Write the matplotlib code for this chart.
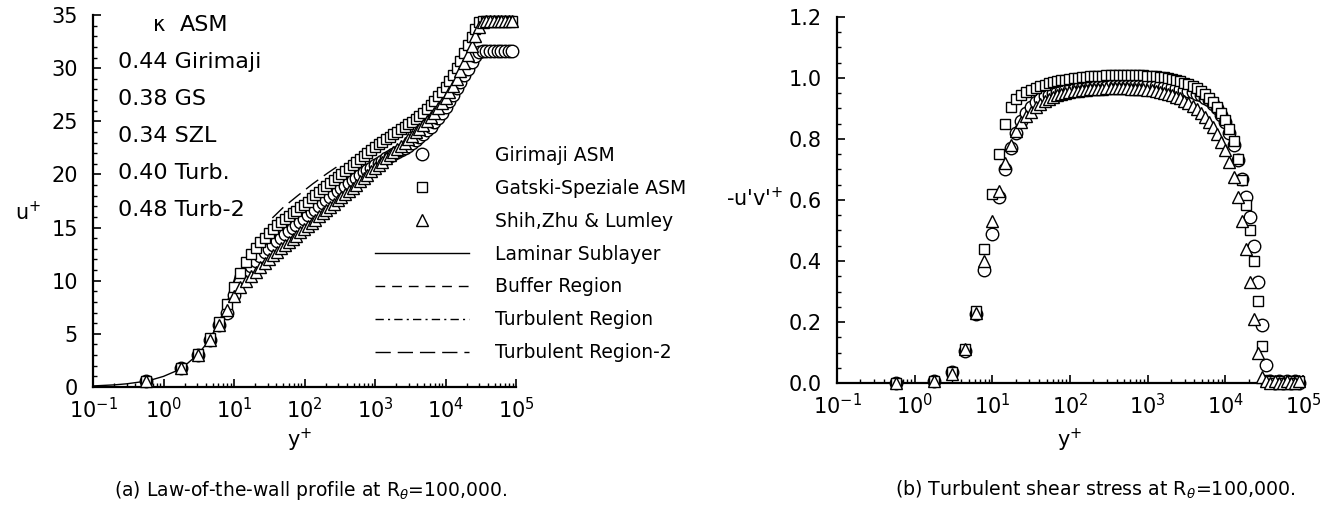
import matplotlib
matplotlib.use("Agg")
import matplotlib.pyplot as plt
from matplotlib.ticker import LogLocator, MultipleLocator, FormatStrFormatter, NullFormatter

plt.rcParams['font.family'] = ['DejaVu Sans']
plt.rcParams['mathtext.fontset'] = 'dejavusans'
plt.rcParams['axes.unicode_minus'] = False

# wall-normal grid (y+), shared by the three models
yplus = [0.57, 1.75, 3.05, 4.5, 6.1, 7.9, 9.9, 12.1, 14.6, 17.3,
         20.3, 23.6, 27.3, 31.4, 36, 41, 47, 53, 60, 68,
         77, 87, 98, 111, 126, 142, 160, 181, 205, 231,
         261, 295, 333, 376, 425, 480, 542, 612, 691, 780,
         881, 995, 1123, 1268, 1432, 1617, 1826, 2062, 2328, 2629,
         2968, 3352, 3785, 4274, 4826, 5450, 6154, 6949, 7847, 8860,
         10005, 11297, 12756, 14404, 16264, 18365, 20737, 23416, 26440, 29855,
         33712, 38000, 43000, 48500, 55000, 62000, 70000, 79000, 89000]

# (a) u+ profiles
u_gir = [0.6, 1.8, 3.05, 4.4, 5.8, 7.0, 8.7, 9.9, 10.8, 11.4,
         11.9, 12.35, 12.7, 13.0, 13.35, 13.7, 14.05, 14.35, 14.65, 14.95,
         15.25, 15.55, 15.85, 16.15, 16.45, 16.7, 17.0, 17.3, 17.6, 17.85,
         18.15, 18.45, 18.7, 18.95, 19.2, 19.45, 19.7, 19.95, 20.2, 20.45,
         20.65, 20.9, 21.1, 21.3, 21.5, 21.7, 21.9, 22.1, 22.3, 22.5,
         22.7, 22.95, 23.2, 23.5, 23.8, 24.15, 24.5, 24.9, 25.35, 25.8,
         26.3, 26.9, 27.5, 28.1, 28.7, 29.35, 29.95, 30.55, 31.1, 31.5,
         31.6, 31.6, 31.6, 31.6, 31.6, 31.6, 31.6, 31.6, 31.6]
u_gs = [0.6, 1.8, 3.1, 4.6, 6.1, 7.8, 9.4, 10.7, 11.8, 12.5,
        13.05, 13.6, 14.05, 14.5, 14.85, 15.2, 15.55, 15.8, 16.1, 16.35,
        16.6, 16.9, 17.15, 17.45, 17.75, 18.05, 18.3, 18.6, 18.9, 19.2,
        19.5, 19.75, 20.05, 20.3, 20.6, 20.9, 21.15, 21.45, 21.7, 22.0,
        22.3, 22.6, 22.85, 23.05, 23.3, 23.55, 23.8, 24.0, 24.25, 24.5,
        24.7, 24.95, 25.2, 25.5, 25.8, 26.15, 26.55, 26.95, 27.4, 27.8,
        28.2, 28.75, 29.35, 30.0, 30.65, 31.4, 32.15, 32.9, 33.7, 34.3,
        34.4, 34.4, 34.4, 34.4, 34.4, 34.4, 34.4, 34.4, 34.4]
u_szl = [0.6, 1.75, 3.0, 4.4, 5.8, 7.2, 8.6, 9.4, 10.0, 10.4,
         10.8, 11.3, 11.7, 12.05, 12.4, 12.7, 13.05, 13.35, 13.65, 13.95,
         14.25, 14.55, 14.85, 15.15, 15.45, 15.75, 16.05, 16.35, 16.65, 16.95,
         17.25, 17.55, 17.85, 18.15, 18.45, 18.75, 19.05, 19.35, 19.65, 19.95,
         20.3, 20.6, 20.9, 21.2, 21.5, 21.8, 22.1, 22.4, 22.7, 23.0,
         23.3, 23.6, 23.95, 24.3, 24.65, 25.0, 25.4, 25.8, 26.25, 26.7,
         27.2, 27.75, 28.35, 29.0, 29.7, 30.45, 31.25, 32.1, 33.0, 33.9,
         34.35, 34.4, 34.4, 34.4, 34.4, 34.4, 34.4, 34.4, 34.4]

# reference law-of-the-wall lines
lam_y = [0.1, 0.2, 0.3, 0.5, 0.7, 1, 1.5, 2, 3, 4, 5, 6, 7, 8, 9, 10, 11]
lam_u = [0.1, 0.2, 0.3, 0.5, 0.7, 1, 1.5, 2, 3, 4, 5, 6, 7, 8, 9, 10, 11]
buf_y = [5, 7, 10, 14, 20, 30]
buf_u = [5.0, 6.7, 8.5, 10.1, 11.9, 13.95]
turb_y = [30, 100, 300, 1000, 3000, 10000]
turb_u = [13.5, 16.5, 19.2, 22.2, 24.9, 27.9]
turb2_y = [35, 50, 80, 130, 210, 300]
turb2_u = [15.9, 16.9, 18.0, 19.1, 20.1, 20.8]

# (b) -u'v'+ profiles
uv_gir = [0.0, 0.005, 0.035, 0.105, 0.225, 0.37, 0.49, 0.61, 0.70, 0.77,
          0.82, 0.86, 0.885, 0.905, 0.92, 0.93, 0.94, 0.945, 0.95, 0.954,
          0.957, 0.96, 0.962, 0.964, 0.966, 0.967, 0.968, 0.969, 0.97, 0.971,
          0.972, 0.972, 0.973, 0.973, 0.974, 0.974, 0.974, 0.975, 0.975, 0.975,
          0.975, 0.975, 0.974, 0.974, 0.973, 0.972, 0.971, 0.969, 0.967, 0.965,
          0.962, 0.958, 0.954, 0.949, 0.943, 0.936, 0.927, 0.915, 0.90, 0.88,
          0.855, 0.82, 0.78, 0.73, 0.67, 0.61, 0.545, 0.45, 0.33, 0.19,
          0.06, 0.005, 0.0, 0.005, 0.0, 0.005, 0.0, 0.005, 0.0]
uv_gs = [0.0, 0.005, 0.035, 0.11, 0.235, 0.44, 0.62, 0.75, 0.85, 0.905,
         0.93, 0.945, 0.955, 0.962, 0.968, 0.973, 0.978, 0.982, 0.986, 0.989,
         0.992, 0.995, 0.997, 0.999, 1.0, 1.002, 1.004, 1.005, 1.006, 1.007,
         1.008, 1.009, 1.009, 1.01, 1.01, 1.01, 1.01, 1.01, 1.01, 1.01,
         1.009, 1.008, 1.007, 1.006, 1.004, 1.002, 1.0, 0.997, 0.993, 0.989,
         0.985, 0.98, 0.974, 0.966, 0.957, 0.946, 0.934, 0.92, 0.904, 0.885,
         0.862, 0.832, 0.792, 0.735, 0.665, 0.585, 0.50, 0.40, 0.27, 0.12,
         0.01, 0.005, 0.0, 0.005, 0.0, 0.0, 0.005, 0.0, 0.005]
uv_szl = [0.0, 0.005, 0.03, 0.11, 0.23, 0.40, 0.53, 0.63, 0.72, 0.78,
          0.825, 0.855, 0.875, 0.89, 0.905, 0.915, 0.925, 0.932, 0.938, 0.943,
          0.947, 0.951, 0.954, 0.957, 0.959, 0.961, 0.962, 0.963, 0.964, 0.965,
          0.965, 0.966, 0.966, 0.966, 0.966, 0.966, 0.966, 0.965, 0.965, 0.964,
          0.963, 0.962, 0.96, 0.958, 0.955, 0.952, 0.948, 0.944, 0.939, 0.933,
          0.926, 0.918, 0.909, 0.898, 0.886, 0.872, 0.856, 0.838, 0.816, 0.79,
          0.765, 0.725, 0.675, 0.61, 0.53, 0.44, 0.33, 0.21, 0.10, 0.02,
          0.005, 0.0, 0.005, 0.0, 0.0, 0.005, 0.0, 0.0, 0.005]

labels = ['Girimaji ASM', 'Gatski-Speziale ASM', 'Shih,Zhu & Lumley',
          'Laminar Sublayer', 'Buffer Region', 'Turbulent Region', 'Turbulent Region-2']
kappa_rows = ['0.44 Girimaji', '0.38 GS', '0.34 SZL', '0.40 Turb.', '0.48 Turb-2']

W, H = 1334, 508
fig = plt.figure(figsize=(W / 100, H / 100), dpi=100)
ax1 = fig.add_axes([93 / W, 1 - 387 / H, (516 - 93) / W, (387 - 15) / H])
ax2 = fig.add_axes([837 / W, 1 - 383 / H, (1303 - 837) / W, (383 - 17) / H])

mk = dict(linestyle='none', markerfacecolor='white', markeredgecolor='black',
          markeredgewidth=1.0, clip_on=False)

# left: law of the wall
l_lam, = ax1.plot(lam_y, lam_u, color='black', lw=1.0, ls='-', zorder=1)
l_buf, = ax1.plot(buf_y, buf_u, color='black', lw=1.0, ls=(0, (7, 5)), zorder=1)
l_turb, = ax1.plot(turb_y, turb_u, color='black', lw=1.0, ls=(0, (6, 3, 1.5, 3)), zorder=1)
l_turb2, = ax1.plot(turb2_y, turb2_u, color='black', lw=1.0, ls=(0, (11, 5)), zorder=1)
p_gir, = ax1.plot(yplus, u_gir, marker='o', markersize=9, zorder=3, **mk)
p_gs, = ax1.plot(yplus, u_gs, marker='s', markersize=7.5, zorder=3, **mk)
p_szl, = ax1.plot(yplus, u_szl, marker='^', markersize=8.5, zorder=3, **mk)

# right: shear stress
ax2.plot(yplus, uv_gir, marker='o', markersize=9, zorder=3, **mk)
ax2.plot(yplus, uv_gs, marker='s', markersize=7.5, zorder=3, **mk)
ax2.plot(yplus, uv_szl, marker='^', markersize=8.5, zorder=3, **mk)

ax1.set_ylim(0, 35)
ax1.yaxis.set_major_locator(MultipleLocator(5))
ax1.yaxis.set_minor_locator(MultipleLocator(1))
ax2.set_ylim(0, 1.2)
ax2.yaxis.set_major_locator(MultipleLocator(0.2))
ax2.yaxis.set_minor_locator(MultipleLocator(0.05))
ax2.yaxis.set_major_formatter(FormatStrFormatter('%.1f'))

for ax in (ax1, ax2):
    ax.set_xscale('log')
    ax.set_xlim(0.1, 1e5)
    ax.xaxis.set_major_locator(LogLocator(base=10, numticks=10))
    ax.xaxis.set_minor_locator(LogLocator(base=10, subs=range(2, 10), numticks=10))
    ax.xaxis.set_minor_formatter(NullFormatter())
    ax.spines['top'].set_visible(False)
    ax.spines['right'].set_visible(False)
    ax.spines['left'].set_linewidth(1.6)
    ax.spines['bottom'].set_linewidth(1.6)
    ax.tick_params(which='major', direction='in', length=6, width=1.2, labelsize=15)
    ax.tick_params(which='minor', direction='in', length=3, width=1.0)
    ax.tick_params(axis='y', which='major', pad=11)
    ax.tick_params(axis='x', which='major', pad=7)

leg = ax1.legend([p_gir, p_gs, p_szl, l_lam, l_buf, l_turb, l_turb2], labels,
                 loc='upper left', bbox_to_anchor=(375 / W, 1 - 146 / H),
                 bbox_transform=fig.transFigure, frameon=False, numpoints=1,
                 handlelength=5.0, handletextpad=1.4, labelspacing=0.74,
                 borderpad=0, borderaxespad=0, fontsize=13.5)

# kappa table
fig.text(153 / W, 1 - 25 / H, '\u03ba', fontsize=15, va='center', ha='left')
fig.text(180 / W, 1 - 25 / H, 'ASM', fontsize=16, va='center', ha='left')
for i, row in enumerate(kappa_rows):
    fig.text(118 / W, 1 - (62 + 37 * i) / H, row, fontsize=16, va='center', ha='left')

fig.text(28 / W, 1 - 212 / H, 'u$^{+}$', fontsize=15, ha='center', va='center')
fig.text(300 / W, 1 - 440 / H, 'y$^{+}$', fontsize=15, ha='center', va='center')
fig.text(783 / W, 1 - 198 / H, "-u'v'$^{+}$", fontsize=15, ha='right', va='center')
fig.text(1070 / W, 1 - 440 / H, 'y$^{+}$', fontsize=15, ha='center', va='center')

fig.text(311 / W, 1 - 490 / H, r'(a) Law-of-the-wall profile at R$_{\theta}$=100,000.',
         fontsize=13.5, ha='center', va='center')
fig.text(1095 / W, 1 - 490 / H, r'(b) Turbulent shear stress at R$_{\theta}$=100,000.',
         fontsize=13.7, ha='center', va='center')

fig.savefig('out.png', dpi=100)
